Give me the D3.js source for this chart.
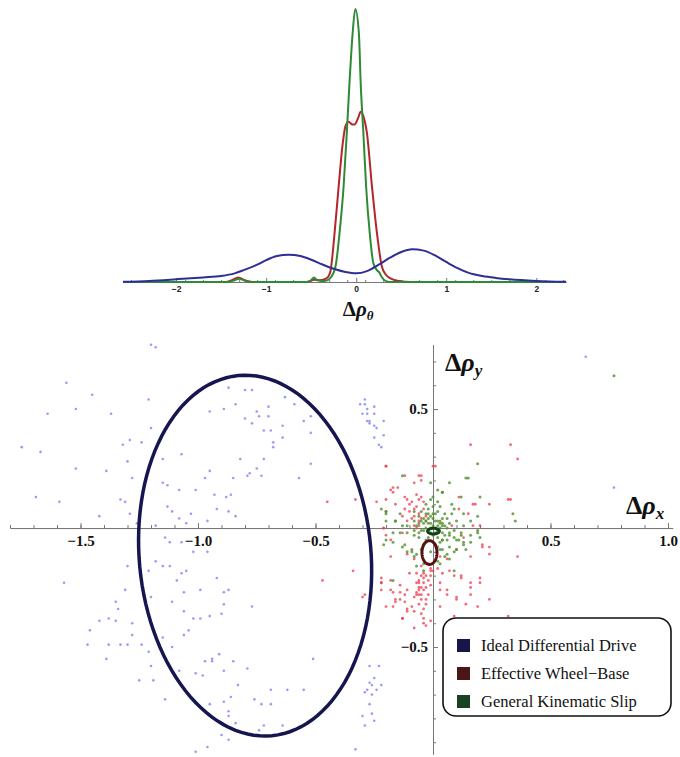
<!DOCTYPE html>
<html>
<head>
<meta charset="utf-8">
<script src="https://cdn.jsdelivr.net/npm/d3@7"></script>
<style>body{margin:0;background:#fff}</style>
</head>
<body>
<script>
// ---- data: density of delta rho theta (top panel) ----
var densBlue = [[-2.59,0.002],[-2.3,0.012],[-2.0,0.03],[-1.7,0.05],[-1.5,0.066],[-1.35,0.095],[-1.25,0.13],[-1.1,0.19],[-1.0,0.24],[-0.88,0.285],[-0.75,0.30],[-0.62,0.285],[-0.5,0.245],[-0.38,0.195],[-0.25,0.145],[-0.12,0.11],[0,0.095],[0.12,0.12],[0.25,0.19],[0.38,0.27],[0.5,0.33],[0.62,0.36],[0.75,0.345],[0.88,0.29],[1.0,0.22],[1.12,0.155],[1.25,0.10],[1.4,0.066],[1.55,0.045],[1.7,0.03],[2.0,0.012],[2.33,0.003]];
var densRed = [[-2.59,0],[-1.45,0],[-1.38,0.02],[-1.31,0.05],[-1.24,0.02],[-1.15,0],[-0.55,0],[-0.47,0.025],[-0.40,0.02],[-0.33,0.04],[-0.29,0.10],[-0.24,0.54],[-0.195,1.05],[-0.15,1.52],[-0.12,1.71],[-0.085,1.76],[-0.04,1.73],[-0.02,1.73],[0.02,1.80],[0.05,1.87],[0.08,1.82],[0.12,1.63],[0.175,1.05],[0.23,0.54],[0.285,0.17],[0.33,0.08],[0.38,0.04],[0.48,0.01],[0.6,0],[2.33,0]];
var densGreen = [[-2.59,0],[-1.42,0],[-1.35,0.02],[-1.3,0.035],[-1.25,0.02],[-1.18,0],[-0.55,0],[-0.5,0.02],[-0.47,0.05],[-0.43,0.02],[-0.35,0.01],[-0.29,0.04],[-0.23,0.17],[-0.185,0.54],[-0.14,1.05],[-0.105,1.63],[-0.075,2.18],[-0.04,2.73],[-0.01,3.0],[0.03,2.73],[0.05,2.18],[0.08,1.63],[0.11,1.05],[0.15,0.54],[0.19,0.21],[0.23,0.13],[0.26,0.10],[0.28,0.06],[0.33,0.01],[0.4,0],[2.33,0]];
var thetaTicks = [-2, -1, 0, 1, 2];

// ---- data: scatter of delta rho x / delta rho y ----
var bluePts = [[-1.20,0.77],[-1.18,0.76],[-1.56,0.61],[-1.45,0.56],[-1.21,0.54],[-1.64,0.48],[-1.52,0.50],[-1.37,0.48],[-1.20,0.42],[-1.75,0.34],[-1.67,0.32],[-1.32,0.35],[-1.29,0.37],[-1.24,0.36],[-1.30,0.28],[-1.15,0.29],[-1.07,0.31],[-1.52,0.25],[-1.39,0.24],[-1.28,0.21],[-1.15,0.19],[-1.13,0.18],[-1.08,0.16],[-1.01,0.16],[-0.97,0.21],[-0.95,0.24],[-0.95,0.49],[-0.89,0.50],[-0.87,0.59],[-1.69,0.13],[-1.59,0.11],[-1.33,0.12],[-1.31,0.11],[-1.29,0.06],[-1.13,0.09],[-1.11,0.07],[-1.08,0.04],[-1.03,0.06],[-1.05,0.02],[-0.96,0.03],[-0.92,0.08],[-1.26,0.02],[-1.18,0.01],[-1.42,0.05],
  [-0.80,0.58],[-0.77,0.58],[-0.84,0.52],[-0.75,0.49],[-0.74,0.47],[-0.70,0.51],[-0.70,0.47],[-0.63,0.55],[-0.59,0.52],[-0.80,0.46],[-0.77,0.44],[-0.72,0.41],[-0.69,0.41],[-0.64,0.43],[-0.55,0.45],[-0.52,0.47],[-0.52,0.40],[-0.68,0.36],[-0.68,0.34],[-0.64,0.38],[-0.72,0.29],[-0.82,0.29],[-0.78,0.23],[-0.79,0.22],[-0.75,0.25],[-0.73,0.22],[-0.85,0.21],[-0.57,0.21],[-0.52,0.27],[-0.93,0.14],[-0.88,0.13],[-0.86,0.14],[-0.87,0.07],[-0.84,0.05],
  [-0.31,0.52],[-0.29,0.52],[-0.28,0.50],[-0.25,0.51],[-0.30,0.48],[-0.28,0.48],[-0.25,0.48],[-0.28,0.45],[-0.27,0.45],[-0.27,0.44],[-0.25,0.43],[-0.24,0.42],[-0.21,0.45],[-0.25,0.38],[-0.21,0.39],[-0.23,0.35],[-0.22,0.34],[-0.29,0.54],[0.65,0.72],[0.77,0.17],
  [-1.14,-0.04],[-1.12,-0.06],[-1.07,-0.06],[-1.02,-0.10],[-0.96,-0.10],[-1.30,-0.16],[-1.21,-0.18],[-1.18,-0.14],[-1.15,-0.16],[-1.12,-0.16],[-1.07,-0.19],[-1.05,-0.18],[-0.92,-0.21],[-1.09,-0.22],[-1.57,-0.23],[-1.31,-0.26],[-1.20,-0.29],[-1.06,-0.27],[-0.99,-0.26],[-1.11,-0.31],[-1.35,-0.31],[-1.34,-0.34],[-1.06,-0.35],[-1.38,-0.38],[-1.35,-0.39],[-1.42,-0.39],[-1.28,-0.40],[-1.02,-0.38],[-0.99,-0.38],[-1.46,-0.43],[-1.04,-0.43],[-1.06,-0.45],[-1.28,-0.45],[-1.15,-0.46],[-1.47,-0.49],[-1.38,-0.49],[-1.33,-0.49],[-1.30,-0.49],[-1.24,-0.49],[-1.11,-0.50],[-1.39,-0.55],[-1.21,-0.52],[-0.97,-0.56],[-0.94,-0.55],[-1.20,-0.58],[-1.08,-0.60],[-1.01,-0.61],[-0.98,-0.62],[-1.25,-0.64],[-1.19,-0.64],[-1.14,-0.72],[-0.95,-0.74],[-0.90,-0.87],[-1.01,-0.94],[-0.96,-0.92],[-0.89,-0.32],[-0.89,-0.27],
  [-0.87,-0.26],[-0.95,-0.37],[-0.90,-0.36],[-0.77,-0.33],[-0.91,-0.53],[-0.94,-0.56],[-0.85,-0.56],[-0.89,-0.60],[-0.79,-0.59],[-0.83,-0.66],[-0.51,-0.55],[-0.86,-0.71],[-0.89,-0.73],[-0.76,-0.72],[-0.69,-0.68],[-0.62,-0.68],[-0.55,-0.68],[-0.73,-0.74],[-0.69,-0.74],[-0.87,-0.77],[-0.84,-0.82],[-0.87,-0.79],[-0.74,-0.85],[-0.72,-0.83],[-0.64,-0.83],[-0.87,-0.89],[-0.33,-0.93],
  [-0.27,-0.58],[-0.23,-0.58],[-0.25,-0.63],[-0.27,-0.65],[-0.26,-0.66],[-0.24,-0.68],[-0.22,-0.66],[-0.28,-0.68],[-0.26,-0.70],[-0.29,-0.69],[-0.27,-0.74],[-0.26,-0.78],[-0.30,-0.79],[-0.25,-0.81],[-0.29,-0.83]];
var redPts = [[-0.12,0.13],[-0.10,0.10],[-0.05,0.13],[-0.06,0.12],[-0.04,0.11],[-0.07,0.09],[-0.12,0.08],[-0.08,0.08],[-0.04,0.08],[-0.06,0.06],[-0.05,0.04],[-0.09,0.04],[-0.03,0.05],[-0.11,0.03],[-0.08,0.01],[-0.06,0.01],[-0.03,0.03],[-0.13,0.05],[-0.16,0.10],[-0.20,0.07],[0.11,0.08],[0.15,0.06],[0.17,0.01],[0.20,0.01],[0.13,-0.04],[0.08,0.01],[-0.18,-0.05],[-0.21,0.00],[-0.13,-0.02],[-0.05,0.22],[-0.20,0.26],[-0.05,0.20],
  [-0.01,-0.18],[-0.03,-0.20],[-0.04,-0.23],[-0.05,-0.25],[-0.06,-0.26],[-0.06,-0.28],[-0.07,-0.23],[-0.01,-0.20],[0.00,-0.18],[0.02,-0.17],[0.03,-0.23],[0.06,-0.26],[0.10,-0.29],[0.14,-0.32],[0.16,-0.25],[0.20,-0.23],[0.12,-0.20],[0.19,-0.33],[-0.11,-0.26],[-0.14,-0.30],[-0.18,-0.26],[-0.22,-0.23],[-0.17,-0.33],[-0.09,-0.33],[-0.05,-0.36],[-0.04,-0.40],[-0.03,-0.32],[0.03,-0.33],[0.09,-0.37],[0.10,-0.09],[0.03,-0.12],[0.06,-0.13],[-0.08,-0.13],[-0.11,-0.11],[-0.18,-0.12],[0.21,-0.08],[0.24,-0.11],
  [0.16,0.35],[0.33,0.35],[0.36,0.29],[0.33,0.12],[0.24,0.10],[0.11,0.13],[0.18,0.10],[0.01,0.26],[-0.06,0.22],[0.00,0.26],[-0.18,0.16],[-0.17,0.17],[-0.08,0.19],[-0.24,0.11],[0.32,0.12],[0.17,0.10],
  [-0.20,-0.03],[-0.05,-0.16],[-0.04,-0.19],[-0.01,-0.17],[-0.06,-0.23],[-0.06,-0.25],[-0.04,-0.26],[-0.05,-0.28],[-0.07,-0.28],[-0.03,-0.30],[-0.01,-0.24],[-0.14,-0.24],[-0.12,-0.28],[-0.17,-0.27],[-0.22,-0.21],[-0.10,-0.19],[0.04,-0.19],[0.07,-0.18],[0.09,-0.20],[0.12,-0.21],[0.16,-0.23],[0.03,-0.26],[0.06,-0.28],[0.10,-0.30],[0.16,-0.28],[0.20,-0.21],[0.24,-0.30],[0.24,-0.08],[0.21,-0.07],[-0.20,-0.33],[-0.16,-0.31],[-0.11,-0.34],[-0.04,-0.38],[-0.01,-0.39],[0.32,-0.37],[0.36,-0.12],[0.16,-0.12],[-0.29,-0.28],[-0.08,-0.35],[-0.13,-0.38],[-0.03,-0.41],
  [-0.20,0.12],[-0.17,0.15],[-0.33,0.12],[-0.45,0.11],[-0.12,0.22],[-0.15,0.17],[-0.20,0.26],[-0.34,-0.18],[-0.22,-0.23],[-0.22,-0.26],[-0.18,-0.22],[-0.14,-0.27],[-0.16,-0.30],[-0.12,-0.31],[-0.08,-0.29],[-0.13,-0.38],[-0.11,-0.35],[-0.08,-0.42],[-0.21,0.00],[-0.30,-0.29],[-0.47,-0.22],
  [-0.09,0.11],[-0.11,0.12],[-0.07,0.14],[-0.10,0.07],[-0.08,0.05],[-0.06,0.03],[-0.07,0.00],[-0.05,-0.20],[-0.04,-0.21],[-0.06,-0.22],[-0.02,-0.22],[-0.03,-0.25],[-0.07,-0.27],[-0.05,-0.30],[-0.06,-0.32],[-0.02,-0.28],[-0.04,-0.34],[-0.02,-0.15],[-0.07,-0.19]];
var greenPts = [[-0.08,0.03],[-0.06,0.02],[-0.03,0.03],[-0.01,0.05],[0.00,0.06],[0.02,0.03],[0.03,0.03],[0.04,0.01],[0.06,0.00],[0.07,-0.02],[0.09,-0.04],[0.11,-0.05],[0.13,-0.06],[0.14,-0.09],[0.10,-0.09],[0.07,-0.08],[0.04,-0.05],[-0.03,-0.05],[-0.06,-0.04],[-0.08,-0.03],[-0.11,-0.02],[-0.14,-0.02],[-0.17,-0.02],[-0.20,-0.05],[-0.12,-0.07],[-0.09,-0.09],[-0.07,-0.11],[-0.05,-0.09],[0.04,-0.09],[0.06,-0.11],[0.07,-0.13],[0.03,-0.15],[0.12,-0.02],[0.16,-0.03],[0.20,-0.04],[0.19,-0.01],[0.13,0.01],[0.10,0.03],[0.04,0.15],[0.02,0.16],[0.00,0.13],[-0.14,0.06],[-0.11,0.01],[-0.08,-0.01],[-0.06,-0.02],[-0.04,-0.01],[0.02,-0.01],[0.02,-0.04],[-0.16,0.03],[-0.20,0.06],[-0.07,-0.16],[-0.04,-0.18],[-0.01,-0.10],[0.02,-0.08],[0.09,-0.18],
  [-0.03,0.00],[0.00,0.01],[0.02,-0.01],[-0.01,-0.02],[0.03,0.02],[-0.04,0.02],[0.05,0.01],[-0.02,0.04],[0.01,0.03],[0.04,-0.02],[-0.05,-0.01],[0.00,-0.03],[0.06,0.04],[-0.06,0.05],[0.02,0.07],[-0.02,0.08],[0.03,0.09],[-0.08,0.07],[0.08,0.06],[0.09,-0.01],[-0.02,-0.01],[0.01,0.00],[-0.01,0.02],[0.05,-0.03],[-0.05,0.03],
  [-0.13,0.22],[0.07,0.19],[0.04,0.15],[0.14,0.21],[-0.01,0.19],[-0.20,0.07],[0.20,0.13],[0.09,0.08],[0.12,0.13],[0.19,0.27],[-0.21,-0.07],[-0.17,-0.06],[-0.13,-0.08],[-0.09,-0.10],[-0.08,-0.12],[-0.11,-0.10],[0.04,-0.05],[0.07,-0.03],[0.10,-0.05],[0.13,-0.07],[0.16,-0.06],[0.19,-0.02],[0.03,-0.09],[0.05,-0.12],[0.09,-0.10],[0.12,-0.03],[0.02,-0.14],[-0.04,-0.15],[-0.17,-0.22],[-0.20,0.03],[-0.22,0.08],[-0.16,0.03],[-0.13,0.01],[0.15,0.21],[0.08,0.10],[0.13,0.06],[0.19,0.05],[0.16,0.03],[0.34,0.06],[0.35,0.03],[0.77,0.64],
  [-0.02,0.02],[0.01,-0.02],[0.03,0.00],[-0.04,0.04],[0.00,0.04],[0.04,0.04],[-0.03,0.06],[0.01,0.06],[0.05,0.06],[-0.05,0.07],[0.00,0.09],[-0.03,0.10],[0.02,0.11],[-0.01,0.12],[0.06,-0.05],[-0.02,-0.04],[0.03,-0.06],[-0.04,-0.07],[0.01,-0.07],[0.07,0.02],[-0.07,0.01],[0.02,0.01],[-0.01,0.00],[0.04,0.02],[-0.02,0.06]];

// covariance ellipses: centre, semi-axes (x-ish, y-ish), tilt in degrees (counter-clockwise)
var seriesNames = ["Ideal Differential Drive", "Effective Wheel\u2212Base", "General Kinematic Slip"];
var ellCx = [-0.757, -0.015, 0.002];
var ellCy = [-0.116, -0.103, -0.013];
var ellRx = [0.493, 0.032, 0.025];
var ellRy = [0.760, 0.050, 0.012];
var ellTilt = [5.4, 0, 0];
var xTickVals = [-1.5, -1.0, -0.5, 0.5, 1.0];
var yTickVals = [-0.5, 0.5];

//Width and height
var w = 680;
var h = 757;
var serif = "Liberation Serif, Times New Roman, serif";

var svg = d3.select("body")
            .append("svg")
            .attr("width", w)
            .attr("height", h);

// ================= top panel =================
var tx = d3.scaleLinear().domain([-2.59, 2.33]).range([123, 566]);
var ty = d3.scaleLinear().domain([0, 3]).range([282, 9]);

var tAxis = svg.append("g").attr("transform", "translate(0," + ty(0) + ")");
tAxis.append("g")
    .call(d3.axisBottom(tx).tickValues(d3.range(-25, 24, 2).map(function(d){ return d / 10; }))
        .tickSizeInner(-2).tickSizeOuter(0).tickFormat(""));
tAxis.append("g")
    .call(d3.axisBottom(tx).tickValues(thetaTicks).tickSizeInner(-4).tickSizeOuter(0).tickPadding(4)
        .tickFormat(d3.format("d")));
tAxis.selectAll("path, line").attr("stroke", "#777");
tAxis.selectAll("text")
    .attr("font-family", "Liberation Sans, Arial, sans-serif")
    .attr("font-size", 8.5)
    .attr("font-weight", "bold")
    .attr("fill", "#222");

var dline = d3.line()
    .x(function(d){ return tx(d[0]); })
    .y(function(d){ return ty(d[1]); })
    .curve(d3.curveMonotoneX);

[[densRed, "#b3262c"], [densGreen, "#2f8a36"], [densBlue, "#2e2e94"]].forEach(function(s){
    svg.append("path")
       .attr("d", dline(s[0]))
       .attr("fill", "none")
       .attr("stroke", s[1])
       .attr("stroke-width", 2);
});

var tl = svg.append("text")
    .attr("x", tx(0) + 2)
    .attr("y", 316)
    .attr("text-anchor", "middle")
    .attr("font-family", serif)
    .attr("font-size", 21)
    .attr("font-weight", "bold")
    .attr("fill", "#111");
tl.append("tspan").text("\u0394");
tl.append("tspan").attr("font-style", "italic").text("\u03C1");
tl.append("tspan").attr("font-style", "italic").attr("font-size", 13).attr("dy", 4).text("\u03B8");

// ================= scatter panel =================
var sx = d3.scaleLinear().domain([-1.8, 1.02]).range([10, 672.7]);
var sy = d3.scaleLinear().domain([-0.95, 0.77]).range([754.1, 344.8]);

// x axis
var xg = svg.append("g").attr("transform", "translate(0," + sy(0) + ")");
xg.append("g")
  .call(d3.axisBottom(sx).tickValues(d3.range(-18, 11, 1).map(function(d){ return d / 10; }))
      .tickSizeInner(-3).tickSizeOuter(0).tickFormat(""));
xg.append("g")
  .call(d3.axisBottom(sx).tickValues(xTickVals).tickSizeInner(-5).tickSizeOuter(0).tickPadding(7)
      .tickFormat(d3.format(".1f")));
// y axis
var yg = svg.append("g").attr("transform", "translate(" + sx(0) + ",0)");
yg.append("g")
  .call(d3.axisLeft(sy).tickValues(d3.range(-9, 8, 1).map(function(d){ return d / 10; }))
      .tickSizeInner(-3).tickSizeOuter(0).tickFormat(""));
yg.append("g")
  .call(d3.axisLeft(sy).tickValues(yTickVals).tickSizeInner(-5).tickSizeOuter(0).tickPadding(5)
      .tickFormat(d3.format(".1f")));
svg.selectAll("g path, g line").attr("stroke", "#777");
[xg, yg].forEach(function(g){
    g.selectAll("text")
     .attr("font-family", serif)
     .attr("font-size", 15)
     .attr("font-weight", "bold")
     .attr("fill", "#111");
});

// points
[[bluePts, "#7070f2", 1.3, 0.7], [redPts, "#ee3a4a", 1.4, 0.75], [greenPts, "#4f8f2c", 1.5, 0.8]].forEach(function(s){
    svg.append("g").selectAll("circle")
       .data(s[0])
       .enter()
       .append("circle")
       .attr("cx", function(d){ return sx(d[0]); })
       .attr("cy", function(d){ return sy(d[1]); })
       .attr("r", s[2])
       .attr("fill", s[1])
       .attr("fill-opacity", s[3]);
});

// ellipses
var ellColors = ["#151550", "#561212", "#14401a"];
var ellWidth = [3.5, 3, 3];
var eline = d3.line()
    .x(function(d){ return sx(d[0]); })
    .y(function(d){ return sy(d[1]); })
    .curve(d3.curveLinearClosed);
for (var k = 0; k < 3; k++) {
    var phi = ellTilt[k] * Math.PI / 180;
    var pts = d3.range(0, 120).map(function(i){
        var t = i / 120 * 2 * Math.PI;
        var ex = ellRx[k] * Math.cos(t), ey = ellRy[k] * Math.sin(t);
        return [ellCx[k] + ex * Math.cos(phi) - ey * Math.sin(phi),
                ellCy[k] + ex * Math.sin(phi) + ey * Math.cos(phi)];
    });
    svg.append("path")
       .attr("d", eline(pts))
       .attr("fill", "none")
       .attr("stroke", ellColors[k])
       .attr("stroke-width", ellWidth[k]);
}

// axis names
var ly = svg.append("text")
    .attr("x", 445).attr("y", 371)
    .attr("font-family", serif).attr("font-size", 26).attr("font-weight", "bold").attr("fill", "#111");
ly.append("tspan").text("\u0394");
ly.append("tspan").attr("font-style", "italic").text("\u03C1");
ly.append("tspan").attr("font-style", "italic").attr("font-size", 17).attr("dy", 5).text("y");

var lx = svg.append("text")
    .attr("x", 626).attr("y", 514)
    .attr("font-family", serif).attr("font-size", 26).attr("font-weight", "bold").attr("fill", "#111");
lx.append("tspan").text("\u0394");
lx.append("tspan").attr("font-style", "italic").text("\u03C1");
lx.append("tspan").attr("font-style", "italic").attr("font-size", 17).attr("dy", 5).text("x");

// legend
var lg = svg.append("g").attr("transform", "translate(443,618)");
lg.append("rect")
  .attr("width", 228).attr("height", 98).attr("rx", 13)
  .attr("fill", "#fff").attr("stroke", "#111").attr("stroke-width", 1.6);
var legSq = ["#161648", "#4a1616", "#164420"];
seriesNames.forEach(function(n, i){
    lg.append("rect")
      .attr("x", 14).attr("y", 21 + i * 28).attr("width", 13).attr("height", 13)
      .attr("fill", legSq[i]);
    lg.append("text")
      .attr("x", 38).attr("y", 33 + i * 28)
      .attr("font-family", serif).attr("font-size", 16.5).attr("fill", "#111")
      .text(n);
});
</script>
</body>
</html>
